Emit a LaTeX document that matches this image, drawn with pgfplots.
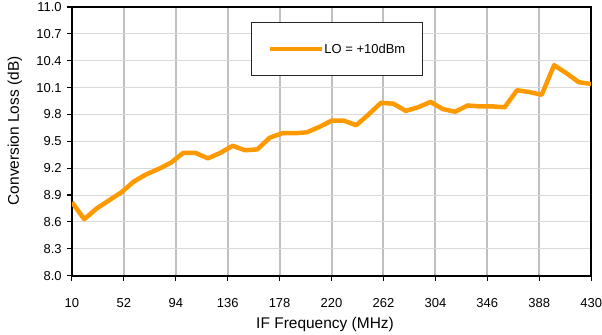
\documentclass[border=0pt]{standalone}
\usepackage{fontspec}
\setmainfont{Liberation Sans}
\usepackage{pgfplots}
\pgfplotsset{compat=1.18}
\definecolor{lineorange}{HTML}{FF9900}
\definecolor{vgrid}{HTML}{C0C0C0}
\definecolor{hgrid}{HTML}{D9D9D9}
\begin{document}
\begin{tikzpicture}
\begin{axis}[
  scale only axis,
  width=520bp, height=269bp,
  xmin=10, xmax=430, ymin=8, ymax=11,
  xtick={10,52,94,136,178,220,262,304,346,388,430},
  xticklabels={10,52,94,136,178,220,262,304,346,388,430},
  ytick={8,8.3,8.6,8.9,9.2,9.5,9.8,10.1,10.4,10.7,11},
  yticklabels={8.0,8.3,8.6,8.9,9.2,9.5,9.8,10.1,10.4,10.7,11.0},
  /pgf/number format/assume math mode=true,
  xtick pos=bottom, ytick pos=left,
  tick align=outside,
  major tick length=5bp,
  every tick/.style={black, line width=1.2bp},
  axis line style={black, line width=2bp},
  xmajorgrids, ymajorgrids,
  x grid style={vgrid, line width=2bp},
  y grid style={hgrid, line width=1bp},
  ticklabel style={font=\fontsize{13bp}{15bp}\selectfont},
  xticklabel style={anchor=base, inner sep=0pt, yshift=-27bp},
  yticklabel style={anchor=east, inner sep=0pt, xshift=-5bp},
  xlabel={IF Frequency (MHz)},
  ylabel={Conversion Loss (dB)},
  label style={font=\fontsize{15.5bp}{18bp}\selectfont},
  xlabel style={at={(axis description cs:0.4875,-0.196)}, anchor=base, inner sep=0pt},
  ylabel style={at={(axis description cs:-0.1096,0.539)}, anchor=center, rotate=0, inner sep=0pt},
  legend style={at={(axis description cs:0.3442,0.9442)}, anchor=north west,
    draw=black!85, line width=0.8bp, fill=white,
    inner xsep=17bp, inner ysep=22bp,
    font=\fontsize{13bp}{15bp}\selectfont,
    nodes={inner sep=0pt, text height=9.5bp, text depth=0bp},
    column sep=0pt},
  legend image code/.code={\draw[lineorange, line width=4.5bp] (0bp,0bp) -- (52bp,0bp);},
]
\addplot[lineorange, line width=4.5bp, line join=round] coordinates {
(10,8.82) (20,8.63) (30,8.75) (40,8.84) (50,8.93) (60,9.05) (70,9.13) (80,9.19)
(90,9.26) (100,9.37) (110,9.37) (120,9.31) (130,9.37) (140,9.45) (150,9.40)
(160,9.41) (170,9.54) (180,9.59) (190,9.59) (200,9.60) (210,9.66) (220,9.73)
(230,9.73) (240,9.68) (250,9.80) (260,9.93) (270,9.92) (280,9.84) (290,9.88)
(300,9.94) (310,9.86) (320,9.83) (330,9.90) (340,9.89) (350,9.89) (360,9.88)
(370,10.07) (380,10.05) (390,10.02) (400,10.35) (410,10.26) (420,10.16) (430,10.14)
};
\addlegendentry{LO = +10dBm}
\end{axis}
\useasboundingbox (-72bp,-59bp) rectangle (530bp,276bp);
\end{tikzpicture}
\end{document}
